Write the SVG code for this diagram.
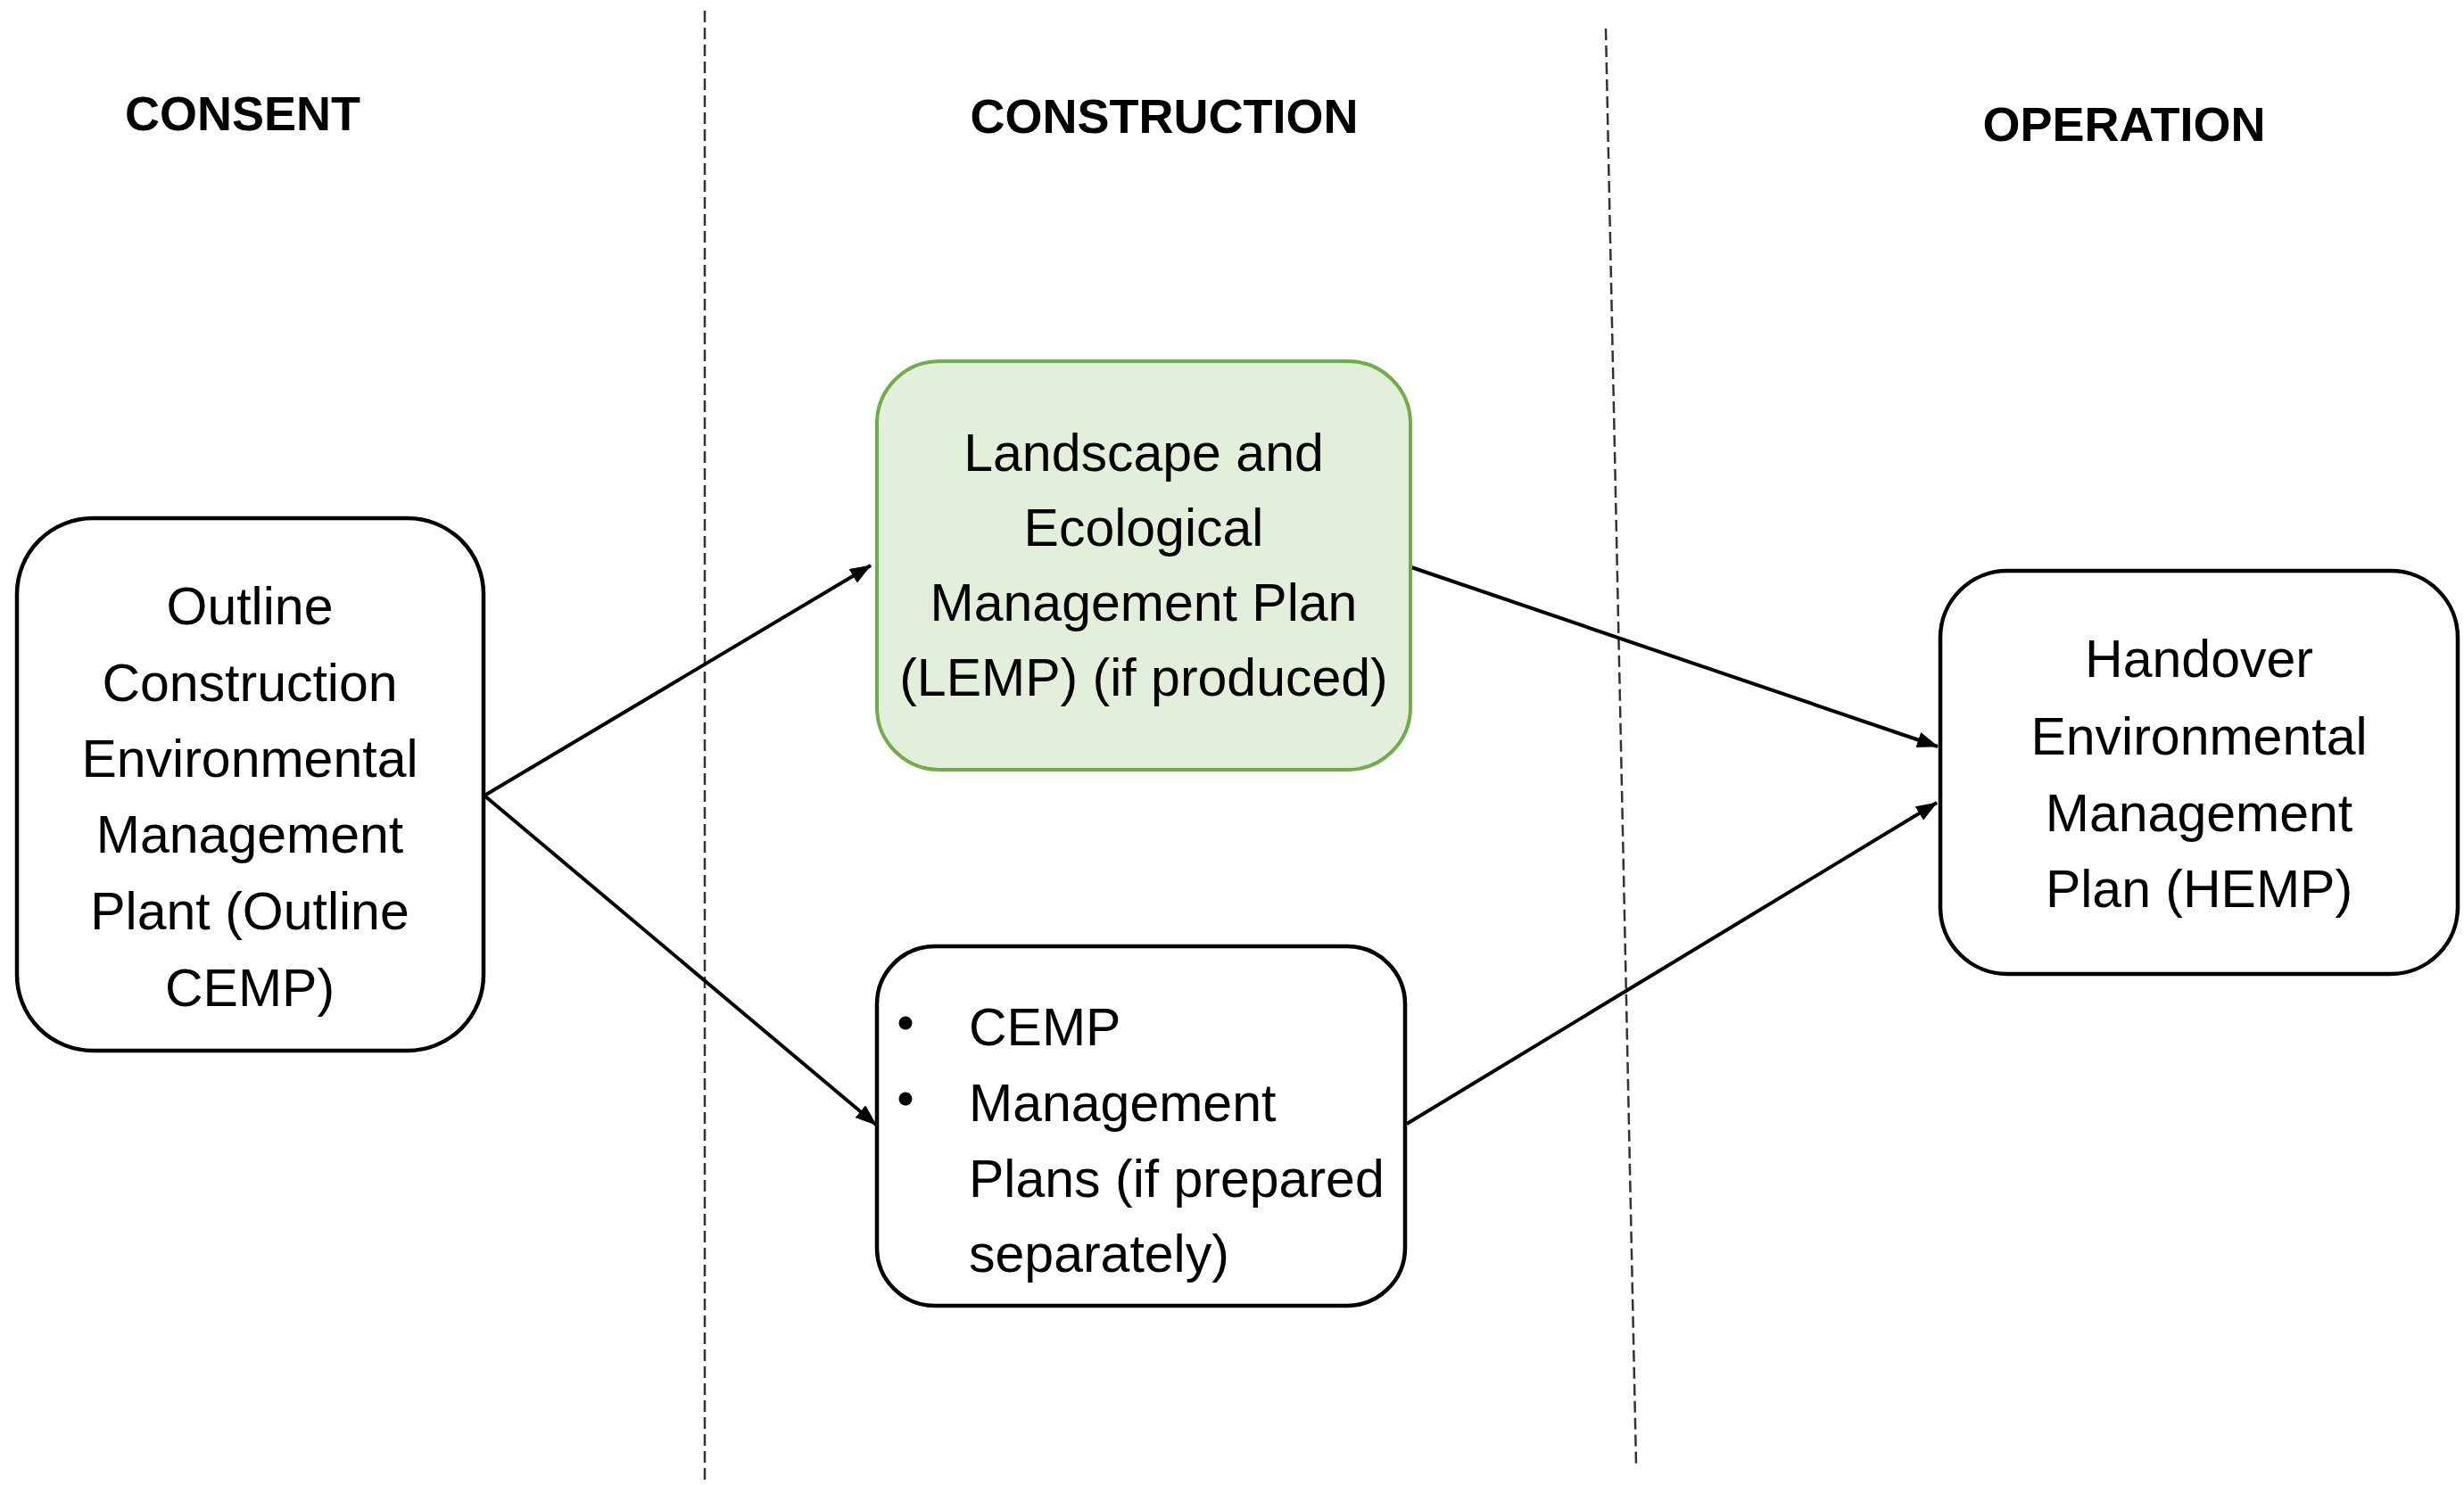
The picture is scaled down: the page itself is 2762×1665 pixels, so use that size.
<svg xmlns="http://www.w3.org/2000/svg" width="2762" height="1665" viewBox="0 0 2762 1665">
<style>
.box{fill:#ffffff;stroke:#000000;stroke-width:4.5}
.green{fill:#E2EFDA;stroke:#70AD47;stroke-width:4}
.t{font-family:"Liberation Sans",Arial,sans-serif;font-size:59px;fill:#000000}
.c{text-anchor:middle}
.h{font-family:"Liberation Sans",Arial,sans-serif;font-size:54px;font-weight:bold;fill:#000000;text-anchor:middle}
.conn{stroke:#000000;stroke-width:4;fill:none;marker-end:url(#arr)}
.div{stroke:#333333;stroke-width:2.5;stroke-dasharray:13 6;fill:none}
</style>
<defs>
<marker id="arr" markerUnits="userSpaceOnUse" markerWidth="24" markerHeight="18" viewBox="0 0 24 18" refX="23" refY="9" orient="auto">
<path d="M0,0 L24,9 L0,18 z" fill="#000000"/>
</marker>
</defs>
<rect width="2762" height="1665" fill="#ffffff"/>
<g id="dividers">
<line class="div" x1="790" y1="12" x2="790" y2="1665"/>
<line class="div" x1="1800" y1="32" x2="1834" y2="1642"/>
</g>
<g id="headings">
<text class="h" x="272" y="146">CONSENT</text>
<text class="h" x="1305" y="149">CONSTRUCTION</text>
<text class="h" x="2381" y="158">OPERATION</text>
</g>
<g id="connectors">
<line class="conn" x1="543" y1="892" x2="976" y2="634"/>
<line class="conn" x1="543" y1="892" x2="982" y2="1261"/>
<line class="conn" x1="1582" y1="636" x2="2172" y2="837"/>
<line class="conn" x1="1577" y1="1260" x2="2171" y2="900"/>
</g>
<g id="outline-cemp">
<rect class="box" x="19" y="581" width="523" height="597" rx="85" ry="85"/>
<text class="t c" x="280" y="700">Outline</text>
<text class="t c" x="280" y="786">Construction</text>
<text class="t c" x="280" y="871">Environmental</text>
<text class="t c" x="280" y="956">Management</text>
<text class="t c" x="280" y="1042">Plant (Outline</text>
<text class="t c" x="280" y="1128">CEMP)</text>
</g>
<g id="lemp">
<rect class="green" x="983" y="405" width="598" height="458" rx="70" ry="70"/>
<text class="t c" x="1282" y="528">Landscape and</text>
<text class="t c" x="1282" y="612">Ecological</text>
<text class="t c" x="1282" y="696">Management Plan</text>
<text class="t c" x="1282" y="780">(LEMP) (if produced)</text>
</g>
<g id="cemp">
<rect class="box" x="983" y="1061" width="592" height="403" rx="65" ry="65"/>
<circle cx="1015" cy="1147" r="7.5" fill="#000000"/>
<circle cx="1015" cy="1232" r="7.5" fill="#000000"/>
<text class="t" x="1086" y="1172">CEMP</text>
<text class="t" x="1086" y="1257">Management</text>
<text class="t" x="1086" y="1342">Plans (if prepared</text>
<text class="t" x="1086" y="1426">separately)</text>
</g>
<g id="hemp">
<rect class="box" x="2175" y="640" width="580" height="452" rx="75" ry="75"/>
<text class="t c" x="2465" y="759">Handover</text>
<text class="t c" x="2465" y="846">Environmental</text>
<text class="t c" x="2465" y="932">Management</text>
<text class="t c" x="2465" y="1017">Plan (HEMP)</text>
</g>
</svg>
